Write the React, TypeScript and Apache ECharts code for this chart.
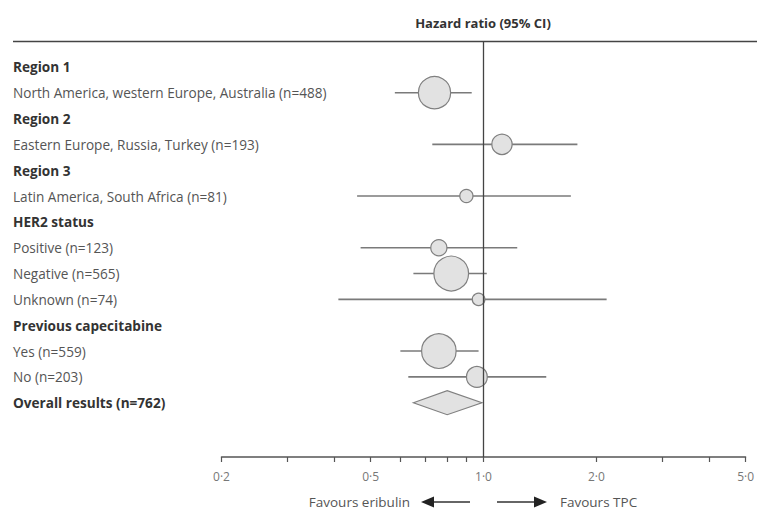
import React, { useEffect, useRef } from "react";
import * as echarts from "echarts";

// ---- data ----
const rowLabels = [
  "Region 1",
  "North America, western Europe, Australia (n=488)",
  "Region 2",
  "Eastern Europe, Russia, Turkey (n=193)",
  "Region 3",
  "Latin America, South Africa (n=81)",
  "HER2 status",
  "Positive (n=123)",
  "Negative (n=565)",
  "Unknown (n=74)",
  "Previous capecitabine",
  "Yes (n=559)",
  "No (n=203)",
  "Overall results (n=762)",
];
const boldRows = [0, 2, 4, 6, 10, 13];
const subgroupRows = [1, 3, 5, 7, 8, 9, 11, 12];
const subgroupN = [488, 193, 81, 123, 565, 74, 559, 203];
const subgroupHR = [0.74, 1.12, 0.9, 0.76, 0.82, 0.97, 0.76, 0.96];
const subgroupLow = [0.58, 0.73, 0.46, 0.47, 0.65, 0.41, 0.6, 0.63];
const subgroupHigh = [0.93, 1.78, 1.71, 1.23, 1.02, 2.13, 0.97, 1.47];
const overallRow = 13;
const overallHR = 0.8;
const overallLow = 0.65;
const overallHigh = 0.99;
const axisMin = 0.2;
const axisMax = 5;
const tickValues = [0.2, 0.3, 0.4, 0.5, 0.6, 0.7, 0.8, 0.9, 1, 2, 3, 4, 5];
const tickLabelValues = [0.2, 0.5, 1, 2, 5];

const FONT = '"Open Sans", "DejaVu Sans", sans-serif';
const lg = (v: number) => Math.log10(v);

export default function App() {
  const ref = useRef<HTMLDivElement>(null);

  useEffect(() => {
    if (!ref.current) return;
    const chart = echarts.init(ref.current, null, { renderer: "svg" });

    const option: any = {
      animation: false,
      backgroundColor: "#ffffff",
      grid: { left: 221.5, right: 10, top: 41, bottom: 53 },
      xAxis: {
        type: "value",
        min: lg(axisMin),
        max: lg(axisMax),
        splitLine: { show: false },
        axisLine: { show: true, onZero: false, lineStyle: { color: "#555", width: 1.5 } },
        axisTick: {
          show: true,
          length: 5,
          customValues: tickValues.map(lg),
          lineStyle: { color: "#555", width: 1.2 },
        },
        axisLabel: {
          customValues: tickLabelValues.map(lg),
          margin: 13,
          color: "#777",
          fontSize: 12,
          fontFamily: FONT,
          formatter: (v: number) => Math.pow(10, v).toFixed(1).replace(".", "·"),
        },
      },
      yAxis: {
        type: "value",
        inverse: true,
        min: -1,
        max: 15.1,
        show: false,
      },
      graphic: [
        {
          type: "line",
          shape: { x1: 13, y1: 41.5, x2: 757, y2: 41.5 },
          style: { stroke: "#444", lineWidth: 1.3 },
        },
        {
          type: "text",
          x: 483,
          y: 23,
          style: {
            text: "Hazard ratio (95% CI)",
            font: `bold 13px ${FONT}`,
            fill: "#333",
            align: "center",
            verticalAlign: "middle",
          },
        },
        {
          type: "text",
          x: 410,
          y: 502,
          style: {
            text: "Favours eribulin",
            font: `13.5px ${FONT}`,
            fill: "#555",
            align: "right",
            verticalAlign: "middle",
          },
        },
        {
          type: "line",
          shape: { x1: 430, y1: 502, x2: 470, y2: 502 },
          style: { stroke: "#333", lineWidth: 1.3 },
        },
        {
          type: "polygon",
          shape: { points: [[421, 502], [434, 496.5], [434, 507.5]] },
          style: { fill: "#222" },
        },
        {
          type: "line",
          shape: { x1: 497, y1: 502, x2: 537, y2: 502 },
          style: { stroke: "#333", lineWidth: 1.3 },
        },
        {
          type: "polygon",
          shape: { points: [[547, 502], [534, 496.5], [534, 507.5]] },
          style: { fill: "#222" },
        },
        {
          type: "text",
          x: 560,
          y: 502,
          style: {
            text: "Favours TPC",
            font: `13.5px ${FONT}`,
            fill: "#555",
            align: "left",
            verticalAlign: "middle",
          },
        },
      ],
      series: [
        {
          type: "custom",
          name: "labels",
          clip: false,
          silent: true,
          data: rowLabels.map((_, i) => [lg(axisMin), i]),
          encode: { x: 0, y: 1 },
          renderItem: (params: any, api: any) => {
            const i = params.dataIndex;
            const y = api.coord([api.value(0), api.value(1)])[1];
            const bold = boldRows.includes(i);
            return {
              type: "text",
              x: 13,
              y,
              style: {
                text: rowLabels[i],
                font: `${bold ? "bold " : ""}13.6px ${FONT}`,
                fill: bold ? "#333" : "#555",
                align: "left",
                verticalAlign: "middle",
              },
            };
          },
        },
        {
          type: "custom",
          name: "ci",
          clip: false,
          silent: true,
          data: subgroupRows.map((r, k) => [lg(subgroupLow[k]), lg(subgroupHigh[k]), r]),
          encode: { x: [0, 1], y: 2 },
          renderItem: (params: any, api: any) => {
            const p1 = api.coord([api.value(0), api.value(2)]);
            const p2 = api.coord([api.value(1), api.value(2)]);
            return {
              type: "line",
              shape: { x1: p1[0], y1: p1[1], x2: p2[0], y2: p2[1] },
              style: { stroke: "#7a7a7a", lineWidth: 1.6 },
            };
          },
          z: 2,
        },
        {
          type: "scatter",
          name: "hr",
          silent: true,
          symbol: "circle",
          data: subgroupRows.map((r, k) => [lg(subgroupHR[k]), r, subgroupN[k]]),
          symbolSize: (v: number[]) => 1.46 * Math.sqrt(v[2]),
          itemStyle: { color: "#e2e2e2", borderColor: "#808080", borderWidth: 1.2, opacity: 1 },
          z: 3,
          markLine: {
            silent: true,
            symbol: "none",
            label: { show: false },
            lineStyle: { color: "#444", width: 1.3, type: "solid" },
            data: [{ xAxis: lg(1) }],
          },
        },
        {
          type: "custom",
          name: "overall",
          clip: false,
          silent: true,
          data: [[lg(overallLow), lg(overallHR), lg(overallHigh), overallRow]],
          encode: { x: [0, 1, 2], y: 3 },
          renderItem: (params: any, api: any) => {
            const l = api.coord([api.value(0), api.value(3)]);
            const c = api.coord([api.value(1), api.value(3)]);
            const h = api.coord([api.value(2), api.value(3)]);
            const hh = 12;
            return {
              type: "polygon",
              shape: {
                points: [
                  [l[0], l[1]],
                  [c[0], c[1] - hh],
                  [h[0], h[1]],
                  [c[0], c[1] + hh],
                ],
              },
              style: { fill: "#e2e2e2", stroke: "#808080", lineWidth: 1.2 },
            };
          },
          z: 3,
        },
      ],
    };

    chart.setOption(option);
    return () => chart.dispose();
  }, []);

  return (
    <div
      ref={ref}
      style={{ position: "absolute", left: 0, top: 0, width: 757, height: 510 }}
    />
  );
}
